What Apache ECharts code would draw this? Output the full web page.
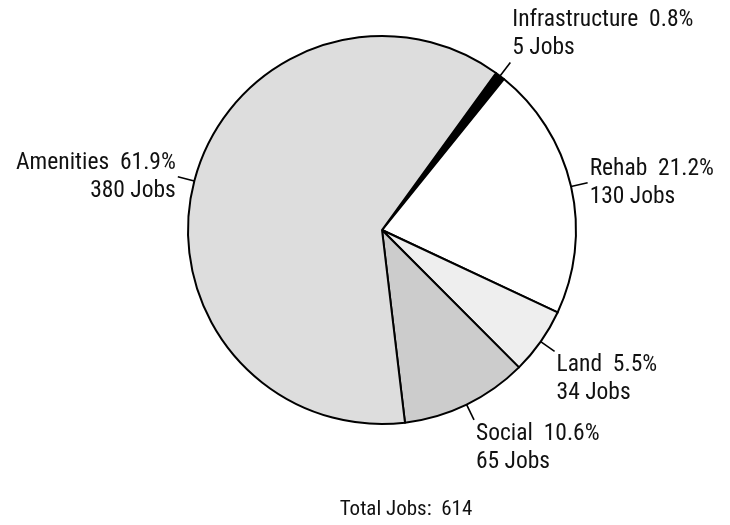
<!DOCTYPE html>
<html>
<head>
<meta charset="utf-8">
<script src="https://cdn.jsdelivr.net/npm/echarts@6/dist/echarts.min.js"></script>
<style>
  html, body { margin: 0; padding: 0; background: #fff; }
  #chart { width: 730px; height: 525px; }
</style>
</head>
<body>
<div id="chart"></div>
<script>
// Job counts by programme category
const categories = ['Infrastructure', 'Rehab', 'Land', 'Social', 'Amenities'];
const jobs = [5, 130, 34, 65, 380];
const sharePct = ['0.8', '21.2', '5.5', '10.6', '61.9'];
const sliceColors = ['#000000', '#ffffff', '#eeeeee', '#cccccc', '#dddddd'];
const totalJobs = jobs.reduce((a, b) => a + b, 0);

const FONT = '"Roboto Condensed", "DejaVu Sans Condensed", sans-serif';

const chart = echarts.init(document.getElementById('chart'), null, { renderer: 'canvas' });

// Put each label at the end of its straight leader line; labels near the
// top sit above the line end, those near the bottom hang below it.
function placeLabel(params) {
  const pts = params.labelLinePoints;
  if (!pts) return {};
  const a = pts[0], b = pts[pts.length - 1];
  const dx = b[0] - a[0], dy = b[1] - a[1];
  const len = Math.hypot(dx, dy) || 1;
  const up = -dy / len;
  const right = dx >= 0;
  return {
    x: b[0] + (right ? 2 : -2),
    y: b[1],
    align: right ? 'left' : 'right',
    verticalAlign: up > 0.5 ? 'bottom' : (up < -0.5 ? 'top' : 'middle'),
    labelLinePoints: pts
  };
}

chart.setOption({
  animation: false,
  backgroundColor: '#ffffff',
  title: {
    text: 'Total Jobs:  ' + totalJobs,
    left: 406,
    top: 499,
    textAlign: 'center',
    padding: 0,
    textStyle: { fontFamily: FONT, fontSize: 21, fontWeight: 'normal', color: '#111' }
  },
  series: [{
    type: 'pie',
    center: [382, 230],
    radius: 194,
    startAngle: 54,
    clockwise: true,
    avoidLabelOverlap: false,
    data: categories.map((c, i) => ({
      name: c,
      value: jobs[i],
      itemStyle: { color: sliceColors[i] }
    })),
    itemStyle: { borderColor: '#000', borderWidth: 2 },
    label: {
      show: true,
      position: 'outside',
      formatter: p => p.name + '  ' + sharePct[p.dataIndex] + '%\n' + p.value + ' Jobs',
      fontFamily: FONT,
      fontSize: 23.5,
      lineHeight: 28,
      color: '#111'
    },
    labelLine: {
      show: true,
      length: 17,
      length2: 0,
      smooth: false,
      lineStyle: { color: '#000', width: 1.6 }
    },
    labelLayout: placeLabel,
    emphasis: { disabled: true }
  }]
});
</script>
</body>
</html>
